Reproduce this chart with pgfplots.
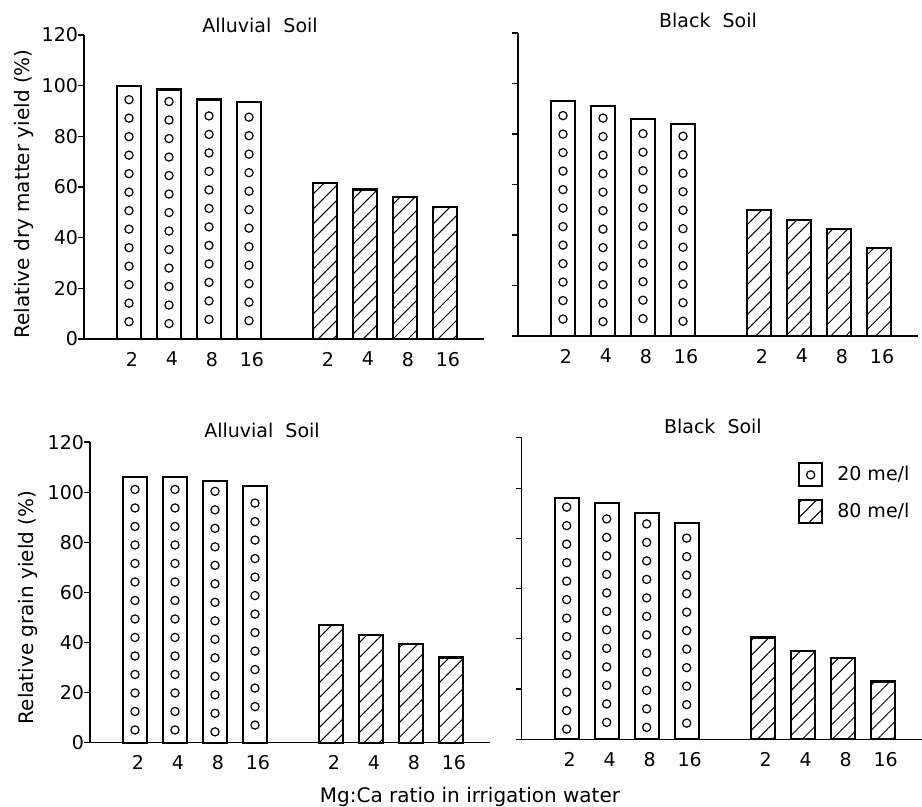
\documentclass[border=0pt]{standalone}
\usepackage{pgfplots}
\pgfplotsset{compat=1.18}
\usetikzlibrary{patterns.meta}
\usepackage{fontspec}
\setmainfont{DejaVu Sans}

% column of small circles hanging down from the top of a bar of value #1
\newcommand\circstack[1]{%
  \pgfkeys{/pgf/fpu=false}%
  \edef\nn{\fpeval{floor(#1*1.26/9.25)}}%
  \edef\topoff{\fpeval{(#1*1.26-\nn*9.25)/2+4.625}}%
  \tikz{\useasboundingbox (0,0);
    \foreach \k in {1,...,\nn}{%
      \edef\cy{\fpeval{\topoff+(\k-1)*9.25}}%
      \draw[line width=0.6pt, solid, draw=black, fill=none] (0pt,-\cy pt) circle[radius=2.05pt];
    }}%
}

\pgfplotsset{
  panel/.style={
    scale only axis, width=200pt,
    xmin=0, xmax=400, ymin=0, ymax=120,
    axis x line*=bottom, axis y line*=left,
    axis line style={-, line width=0.6pt},
    xtick={45,85,125,165,241,281,321,361},
    xticklabels={2,4,8,16,2,4,8,16},
    ytick={0,20,...,120},
    tick align=outside, major tick length=3pt,
    xtick style={draw=none},
    ytick style={line width=0.6pt, black},
    tick label style={font=\fontsize{9.5}{11}\selectfont},
    xticklabel style={yshift=0pt, xshift=1.5pt},
    yticklabel style={xshift=3.5pt},
    /pgf/number format/assume math mode=true,
    ybar, bar width=12pt,
    every axis title shift=0pt,
    title style={font=\fontsize{9.5}{11}\selectfont, anchor=center, yshift=0pt},
    label style={font=\fontsize{9.5}{11}\selectfont},
    clip=false,
  },
  c20/.style={draw=black, line width=1.1pt, fill=white, bar shift=0pt,
    legend image code/.code={%
      \draw[draw=black, line width=1.1pt, fill=white] (0pt,-5.75pt) rectangle (11.5pt,5.75pt);
      \draw[draw=black, line width=0.6pt, fill=none] (5.75pt,0pt) circle[radius=2.05pt];}},
  c80/.style={draw=black, line width=1.1pt, bar shift=0pt, pattern={Lines[angle=45,distance=5.3pt,line width=0.5pt]},
    legend image code/.code={%
      \draw[draw=black, line width=1.1pt, pattern={Lines[angle=45,distance=5.3pt,line width=0.5pt]}] (0pt,-5.75pt) rectangle (11.5pt,5.75pt);}},
  circs/.style={visualization depends on={rawy \as \barval},
    nodes near coords={\circstack{\barval}},
    every node near coord/.append style={inner sep=0pt, outer sep=0pt}},
}

\begin{document}
\begin{tikzpicture}[x=1pt,y=1pt]
\useasboundingbox (0,0) rectangle (461,403.5);

% Top left
\begin{axis}[panel, height=152pt, at={(42pt,234pt)}, anchor=south west,
  title={Alluvial\ \ Soil}, title style={at={(rel axis cs:0.44,1.033)}},
  ylabel={Relative dry matter yield (\%)},
  every axis y label/.style={at={(rel axis cs:-0.15,0.477)}, rotate=90, anchor=center}]
\addplot[c20, circs] coordinates {(45,100) (85,98.5) (125,94.5) (165,93.5)};
\addplot[c80] coordinates {(241,61.5) (281,59) (321,56) (361,52)};
\end{axis}

% Top right
\begin{axis}[panel, height=151.5pt, at={(259pt,235.5pt)}, anchor=south west,
  yticklabels={},
  title={Black\ \ Soil}, title style={at={(rel axis cs:0.475,1.043)}}]
\addplot[c20, circs] coordinates {(45,93) (85,91) (125,86) (165,84)};
\addplot[c80] coordinates {(241,50) (281,46) (321,42.5) (361,35)};
\end{axis}

% Bottom left
\begin{axis}[panel, height=150.3pt, at={(45pt,32.15pt)}, anchor=south west,
  title={Alluvial\ \ Soil}, title style={at={(rel axis cs:0.43,1.038)}},
  ylabel={Relative grain yield (\%)},
  every axis y label/.style={at={(rel axis cs:-0.155,0.45)}, rotate=90, anchor=center},
  xlabel={Mg:Ca ratio in irrigation water},
  every axis x label/.style={at={(rel axis cs:0.95,-0.18)}, anchor=center}]
\addplot[c20, circs] coordinates {(45,106) (85,106) (125,104.5) (165,102.5)};
\addplot[c80] coordinates {(241,47) (281,43) (321,39.5) (361,34)};
\end{axis}

% Bottom right
\begin{axis}[panel, height=150.7pt, at={(260.85pt,33.85pt)}, anchor=south west,
  yticklabels={},
  title={Black\ \ Soil}, title style={at={(rel axis cs:0.478,1.037)}},
  legend style={draw=none, fill=none, at={(axis cs:276,110.5)}, anchor=north west,
    inner sep=0pt, row sep=5.5pt, font=\fontsize{9.5}{11}\selectfont,
    /tikz/every odd column/.append style={column sep=5pt}},
  legend cell align=left]
\addplot[c20, circs] coordinates {(45,96) (85,94) (125,90) (165,86)};
\addlegendentry{20 me/l}
\addplot[c80] coordinates {(241,40.5) (281,35) (321,32.5) (361,23)};
\addlegendentry{80 me/l}
\end{axis}
\end{tikzpicture}
\end{document}
